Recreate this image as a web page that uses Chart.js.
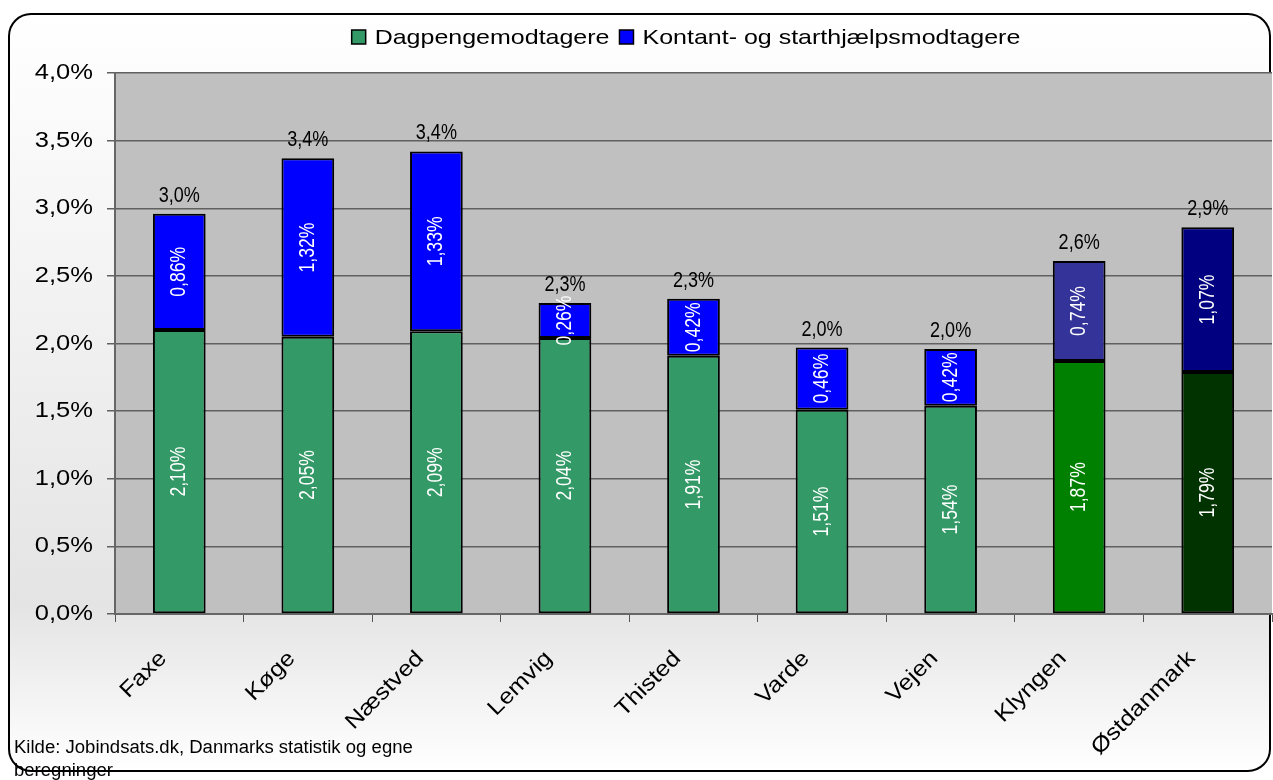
<!DOCTYPE html>
<html>
<head>
<meta charset="utf-8">
<script src="https://cdn.jsdelivr.net/npm/chart.js@4/dist/chart.umd.min.js"></script>
<style>
  html, body { margin: 0; padding: 0; background: #fff; }
  #wrap { width: 1273px; height: 780px; }
</style>
</head>
<body>
<div id="wrap"><canvas id="myChart" width="1273" height="780"></canvas></div>
<script>
let categories = ["Faxe", "Køge", "Næstved", "Lemvig", "Thisted", "Varde", "Vejen", "Klyngen", "Østdanmark"];
let dagpenge = [2.10, 2.05, 2.09, 2.04, 1.91, 1.51, 1.54, 1.87, 1.79];
let kontant = [0.86, 1.32, 1.33, 0.26, 0.42, 0.46, 0.42, 0.74, 1.07];
let yTicks = [0, 0.5, 1.0, 1.5, 2.0, 2.5, 3.0, 3.5, 4.0];
let seriesNames = ["Dagpengemodtagere", "Kontant- og starthjælpsmodtagere"];

let greenColors = ["#339966", "#339966", "#339966", "#339966", "#339966", "#339966", "#339966", "#008000", "#003300"];
let blueColors = ["#0000FF", "#0000FF", "#0000FF", "#0000FF", "#0000FF", "#0000FF", "#0000FF", "#333399", "#000080"];

const fontMain = "'Liberation Sans', Arial, sans-serif";

function fmt(v, d) {
    return v.toFixed(d).replace('.', ',') + '%';
}

// draws text stretched (sx) along its own baseline
function stretchText(c, text, x, y, sx, angle, align, base) {
    c.save();
    c.translate(x, y);
    c.rotate(angle);
    c.scale(sx, 1);
    c.textAlign = align;
    c.textBaseline = base;
    c.fillText(text, 0, 0);
    c.restore();
}

let ctx = document.getElementById('myChart');

let frame = {
    id: 'frame',
    beforeDraw(chart) {
        let c = chart.ctx;
        let x = 9, y = 14, w = 1261, h = 757, r = 22;
        c.save();
        let g = c.createLinearGradient(0, y, 0, y + h);
        g.addColorStop(0, '#ffffff');
        g.addColorStop(0.78, '#e4e4e4');
        g.addColorStop(1, '#ffffff');
        c.beginPath();
        c.roundRect(x, y, w, h, r);
        c.fillStyle = g;
        c.fill();
        c.lineWidth = 2;
        c.strokeStyle = '#000';
        c.stroke();
        let a = chart.chartArea;
        c.fillStyle = '#C0C0C0';
        c.fillRect(a.left, a.top, a.right - a.left, a.bottom - a.top);
        c.restore();
    },
    afterDraw(chart) {
        let c = chart.ctx;
        c.save();

        // legend
        let lsx = 1.19;
        c.font = '21px ' + fontMain;
        let items = [
            { text: seriesNames[0], color: greenColors[0] },
            { text: seriesNames[1], color: blueColors[0] }
        ];
        let box = 14, gap = 9, sep = 10;
        let total = 0;
        items.forEach(it => { total += box + gap + c.measureText(it.text).width * lsx; });
        total += sep;
        let lx = 686 - total / 2, ly = 37;
        items.forEach(it => {
            c.fillStyle = it.color;
            c.fillRect(lx, ly - box / 2, box, box);
            c.lineWidth = 1.5;
            c.strokeStyle = '#000';
            c.strokeRect(lx, ly - box / 2, box, box);
            c.fillStyle = '#000';
            stretchText(c, it.text, lx + box + gap, ly + 1, lsx, 0, 'left', 'middle');
            lx += box + gap + c.measureText(it.text).width * lsx + sep;
        });

        // y tick labels
        let ys = chart.scales.y;
        c.font = '22px ' + fontMain;
        c.fillStyle = '#000';
        yTicks.forEach(v => {
            stretchText(c, fmt(v, 1), 93, ys.getPixelForValue(v), 1.16, 0, 'right', 'middle');
        });

        // x tick labels
        let xs = chart.scales.x;
        categories.forEach((name, i) => {
            let px = xs.getPixelForValue(i);
            stretchText(c, name, px - 16, ys.bottom + 41, 1.14, -Math.PI / 4, 'right', 'middle');
        });

        // data labels
        let m0 = chart.getDatasetMeta(0), m1 = chart.getDatasetMeta(1);
        c.font = '22px ' + fontMain;
        c.fillStyle = '#fff';
        [m0, m1].forEach((meta, di) => {
            let vals = di === 0 ? dagpenge : kontant;
            meta.data.forEach((bar, i) => {
                let cy = (bar.y + bar.base) / 2;
                stretchText(c, fmt(vals[i], 2), bar.x, cy, 0.8, -Math.PI / 2, 'center', 'middle');
            });
        });
        // totals
        c.fillStyle = '#000';
        m1.data.forEach((bar, i) => {
            stretchText(c, fmt(dagpenge[i] + kontant[i], 1), bar.x, bar.y - 12, 0.82, 0, 'center', 'alphabetic');
        });

        // source
        c.font = '18px ' + fontMain;
        c.fillStyle = '#000';
        stretchText(c, 'Kilde: Jobindsats.dk, Danmarks statistik og egne', 14, 753, 1.03, 0, 'left', 'alphabetic');
        stretchText(c, 'beregninger', 14, 776, 1.03, 0, 'left', 'alphabetic');
        c.restore();
    }
};

makeChart();

function makeChart() {
    const myChart = new Chart(ctx, {
        type: 'bar',
        data: {
            labels: categories,
            datasets: [
                {
                    label: seriesNames[0],
                    data: dagpenge,
                    backgroundColor: greenColors,
                    borderColor: '#000',
                    borderWidth: 2,
                    borderSkipped: false,
                    barPercentage: 0.41,
                    categoryPercentage: 1
                },
                {
                    label: seriesNames[1],
                    data: kontant,
                    backgroundColor: blueColors,
                    borderColor: '#000',
                    borderWidth: 2,
                    borderSkipped: false,
                    barPercentage: 0.41,
                    categoryPercentage: 1
                }
            ]
        },
        options: {
            responsive: false,
            animation: false,
            layout: { padding: { top: 73, right: 1, left: 0, bottom: 0 } },
            plugins: {
                legend: { display: false },
                tooltip: { enabled: false }
            },
            scales: {
                x: {
                    stacked: true,
                    grid: {
                        offset: true,
                        drawOnChartArea: false,
                        color: '#555',
                        tickLength: 8
                    },
                    border: { color: '#666', width: 2 },
                    ticks: {
                        color: 'rgba(0,0,0,0)',
                        font: { family: fontMain, size: 22 },
                        maxRotation: 45,
                        minRotation: 45
                    },
                    afterFit(scale) { scale.height = 166; }
                },
                y: {
                    stacked: true,
                    min: 0,
                    max: 4,
                    afterBuildTicks(scale) {
                        scale.ticks = yTicks.map(v => ({ value: v }));
                    },
                    grid: {
                        color: '#606060',
                        lineWidth: 1.5,
                        tickLength: 8
                    },
                    border: { color: '#666', width: 2 },
                    ticks: {
                        color: 'rgba(0,0,0,0)',
                        font: { family: fontMain, size: 22 },
                        callback: v => fmt(v, 1)
                    },
                    afterFit(scale) { scale.width = 115; }
                }
            }
        },
        plugins: [frame]
    });
}
</script>
</body>
</html>
